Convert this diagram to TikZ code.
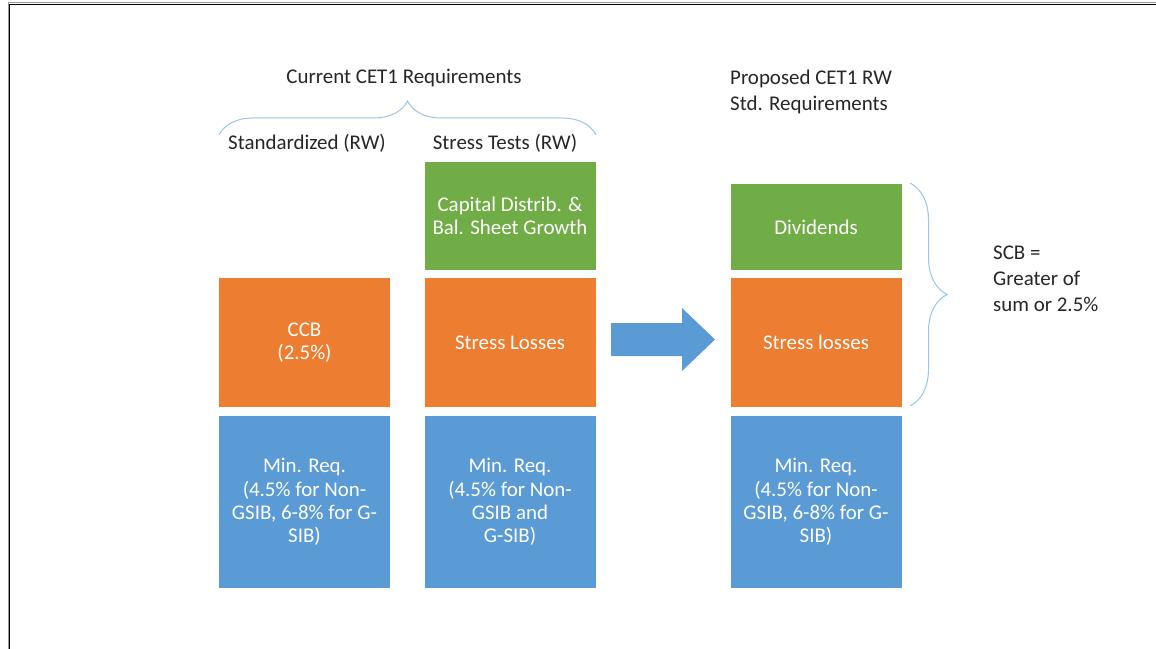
\documentclass[tikz,border=0pt]{standalone}
\usepackage{fontspec}
\setmainfont{Carlito}
\usetikzlibrary{decorations.pathreplacing}
\definecolor{ogreen}{HTML}{70AD47}
\definecolor{oorange}{HTML}{ED7D31}
\definecolor{oblue}{HTML}{5B9BD5}
\definecolor{bracec}{HTML}{9DC3E6}
\definecolor{txt}{HTML}{262626}
\tikzset{
  blk/.style={minimum width=171bp, inner sep=0pt, text=white, align=center, font=\fontsize{21}{23.5}\selectfont},
  lbl/.style={inner sep=0pt, text=txt, font=\fontsize{21}{26}\selectfont},
  brc/.style={draw=bracec, line width=1bp, decorate},
}
\begin{document}
\begin{tikzpicture}[x=1bp,y=-1bp]
\useasboundingbox (0,0) rectangle (1156,649);
\fill[white] (0,0) rectangle (1156,649);
\draw[black!40, line width=1bp] (8,649) -- (8,3) -- (1156,3);
\draw[black, line width=1.4bp] (9.5,649) -- (9.5,4.5) -- (1156,4.5);

% titles
\node[lbl] (cur) at (404,78) {Current CET1 Requirements};
\node[lbl] (std) at (307,143) {Standardized (RW)};
\node[lbl] (stt) at (505,143) {Stress Tests (RW)};
\node[lbl, anchor=west, align=left] (prop) at (730,92) {Proposed CET1 RW\\Std. Requirements};
\node[lbl, anchor=west, align=left] (scb) at (993,279) {SCB =\\Greater of\\sum or 2.5\%};

% column 1
\node[blk, fill=oorange, minimum height=129bp] (ccb) at (304.5,342.5) {CCB\\(2.5\%)};
\node[blk, fill=oblue, minimum height=172bp] (min1) at (304.5,502) {Min. Req.\\(4.5\% for Non-\\GSIB, 6-8\% for G-\\SIB)};

% column 2
\node[blk, fill=ogreen, minimum height=108bp] (cap) at (510,216) {Capital Distrib. \&\\Bal. Sheet Growth};
\node[blk, fill=oorange, minimum height=129bp] (sl) at (510,342.5) {Stress Losses};
\node[blk, fill=oblue, minimum height=172bp] (min2) at (510,502) {Min. Req.\\(4.5\% for Non-\\GSIB and\\G-SIB)};

% column 3
\node[blk, fill=ogreen, minimum height=86bp] (div) at (816,227) {Dividends};
\node[blk, fill=oorange, minimum height=129bp] (sl3) at (816,342.5) {Stress losses};
\node[blk, fill=oblue, minimum height=172bp] (min3) at (816,502) {Min. Req.\\(4.5\% for Non-\\GSIB, 6-8\% for G-\\SIB)};

% arrow
\fill[oblue] (611,323) -- (682,323) -- (682,308) -- (715,339.5) -- (682,371) -- (682,356) -- (611,356) -- cycle;

% braces
\coordinate (b1s) at (219,135);
\coordinate (b1e) at (596,135);
\draw[brc, decoration={brace, amplitude=34bp}] (b1s) -- (b1e);
\coordinate (b2s) at (910,183);
\coordinate (b2e) at (910,406);
\draw[brc, decoration={brace, amplitude=37bp}] (b2s) -- (b2e);
\end{tikzpicture}
\end{document}
